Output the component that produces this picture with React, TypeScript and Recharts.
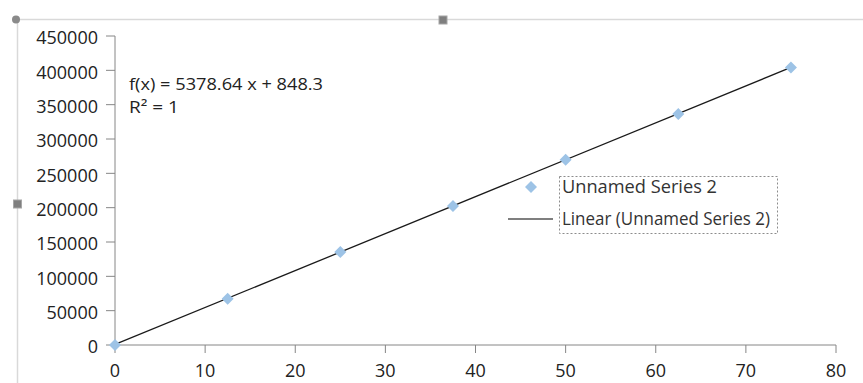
import React from 'react';
import { ScatterChart, Scatter, XAxis, YAxis, Customized } from 'recharts';

const xValues = [0, 12.5, 25, 37.5, 50, 62.5, 75];
const yValues = [0, 67500, 135300, 202500, 269800, 336500, 404300];
const trendX = [0, 75];
const trendY = [848.3, 404246.3];
const xTicks = [0, 10, 20, 30, 40, 50, 60, 70, 80];
const yTicks = [0, 50000, 100000, 150000, 200000, 250000, 300000, 350000, 400000, 450000];
const seriesName = 'Unnamed Series 2';
const trendName = 'Linear (Unnamed Series 2)';
const equationText = 'f(x) = 5378.64 x + 848.3';
const rSquaredText = 'R² = 1';

const points = xValues.map((x, i) => ({ x, y: yValues[i] }));
const trend = trendX.map((x, i) => ({ x, y: trendY[i] }));

const FONT = '"Open Sans", "Liberation Sans", sans-serif';
const MARK = '#9DC3E6';

const Diamond = (props: any) => {
  const { cx, cy } = props;
  if (cx == null || cy == null) return null;
  const r = 6;
  return <polygon points={`${cx},${cy - r} ${cx + r},${cy} ${cx},${cy + r} ${cx - r},${cy}`} fill={MARK} />;
};

const NoShape = () => null;

const LegendBox = () => (
  <g transform="translate(500,170)">
    <rect x={59.5} y={6.5} width={218} height={57} fill="none" stroke="#8c8c8c" strokeDasharray="2 2" strokeWidth={1} />
    <polygon points="31,11 37,17 31,23 25,17" fill={MARK} />
    <line x1={8} x2={53} y1={49} y2={49} stroke="#000" strokeWidth={1.2} />
    <text x={62} y={23} fontFamily={FONT} fontSize={17.8} fill="#333" textLength={155} lengthAdjust="spacingAndGlyphs">{seriesName}</text>
    <text x={62} y={55} fontFamily={FONT} fontSize={17.8} fill="#333" textLength={208} lengthAdjust="spacingAndGlyphs">{trendName}</text>
  </g>
);

const Equation = () => (
  <g>
    <text x={129} y={90} fontFamily={FONT} fontSize={16.5} fill="#222" textLength={194} lengthAdjust="spacingAndGlyphs">{equationText}</text>
    <text x={129} y={113} fontFamily={FONT} fontSize={16.5} fill="#222" textLength={50} lengthAdjust="spacingAndGlyphs">{rSquaredText}</text>
  </g>
);

const Frame = () => (
  <g>
    <line x1={15} x2={863} y1={19.5} y2={19.5} stroke="#d9d9d9" strokeWidth={1.5} />
    <line x1={17.5} x2={17.5} y1={19} y2={383} stroke="#d9d9d9" strokeWidth={1.5} />
    <circle cx={16} cy={19.5} r={4} fill="#8a8a8a" />
    <rect x={439} y={16} width={8} height={8} fill="#7f7f7f" stroke="#a6a6a6" />
    <rect x={13.5} y={200} width={8} height={8} fill="#7f7f7f" stroke="#a6a6a6" />
  </g>
);

export default function App() {
  return (
    <div style={{ position: 'absolute', left: 0, top: 0, width: 863, height: 383, background: '#fff' }}>
      <ScatterChart width={863} height={383} margin={{ top: 36, right: 27, bottom: 0, left: 0 }}>
        <Customized component={Frame} />
        <XAxis
          type="number"
          dataKey="x"
          domain={[0, 80]}
          ticks={xTicks}
          interval={0}
          height={38}
          tickSize={8}
          tickMargin={11}
          stroke="#868686"
          tick={{ fill: '#222', fontSize: 18, fontFamily: FONT }}
        />
        <YAxis
          type="number"
          dataKey="y"
          domain={[0, 450000]}
          ticks={yTicks}
          interval={0}
          width={115}
          tickSize={9}
          tickMargin={8}
          stroke="#868686"
          tick={{ fill: '#222', fontSize: 18, fontFamily: FONT, dy: 2 }}
        />
        <Scatter
          name={trendName}
          data={trend}
          line={{ stroke: '#1a1a1a', strokeWidth: 1.3 }}
          shape={NoShape}
          isAnimationActive={false}
        />
        <Scatter name={seriesName} data={points} shape={Diamond} isAnimationActive={false} />
        <Customized component={Equation} />
        <Customized component={LegendBox} />
      </ScatterChart>
    </div>
  );
}
